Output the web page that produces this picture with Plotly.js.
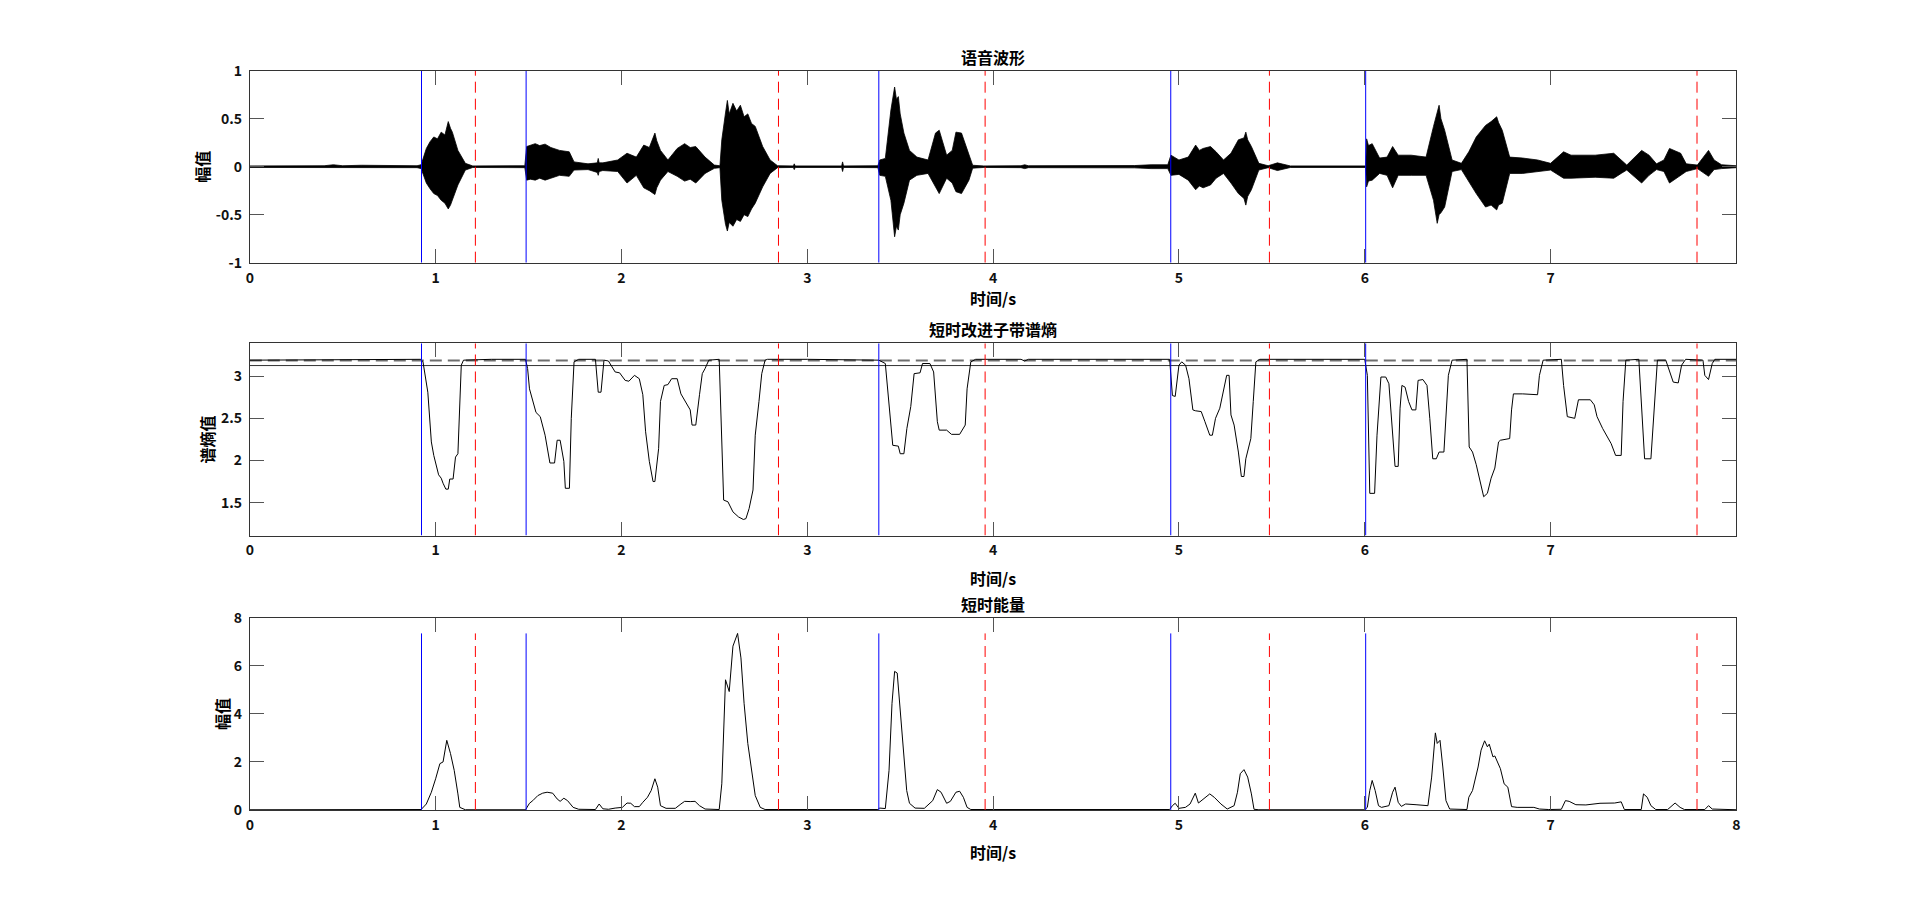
<!DOCTYPE html>
<html>
<head>
<meta charset="utf-8">
<script src="https://cdn.plot.ly/plotly-3.0.1.min.js"></script>
<style>html,body{margin:0;padding:0;background:#fff;}#chart{width:1920px;height:914px;}</style>
</head>
<body>
<div id="chart"></div>
<script>
// ---- Endpoint detection results (seconds) ----
const segStarts = [0.924, 1.487, 3.385, 4.956, 6.005];
const segEnds   = [1.214, 2.845, 3.957, 5.487, 7.788];

// ---- Speech waveform envelope ----
const waveT = [0.00,0.40,0.45,0.50,0.60,0.70,0.80,0.90,0.922,0.95,0.97,0.99,1.01,1.03,1.05,1.068,1.08,1.09,1.12,1.16,1.20,1.48,1.49,1.51,1.536,1.56,1.589,1.62,1.667,1.719,1.745,1.82,1.87,1.875,1.88,1.90,1.98,2.03,2.08,2.12,2.15,2.18,2.19,2.21,2.25,2.30,2.34,2.37,2.40,2.45,2.50,2.53,2.54,2.56,2.57,2.58,2.60,2.62,2.64,2.66,2.68,2.70,2.72,2.76,2.80,2.84,2.925,2.93,2.935,3.185,3.19,3.195,3.38,3.39,3.42,3.45,3.47,3.48,3.49,3.50,3.52,3.55,3.59,3.65,3.69,3.71,3.75,3.78,3.80,3.83,3.87,3.89,3.95,4.15,4.17,4.19,4.76,4.85,4.94,4.957,5.00,5.05,5.09,5.11,5.13,5.17,5.20,5.24,5.28,5.32,5.35,5.36,5.37,5.39,5.43,5.48,5.53,5.60,6.005,6.01,6.02,6.04,6.08,6.12,6.15,6.18,6.25,6.33,6.37,6.39,6.40,6.41,6.43,6.47,6.52,6.56,6.60,6.65,6.68,6.71,6.72,6.74,6.78,6.85,6.93,7.00,7.07,7.11,7.24,7.34,7.38,7.41,7.49,7.53,7.57,7.61,7.64,7.70,7.73,7.79,7.85,7.88,7.92,8.00];
const waveUp = [0.008,0.010,0.020,0.010,0.015,0.012,0.015,0.010,0.020,0.19,0.26,0.31,0.29,0.36,0.33,0.47,0.40,0.36,0.17,0.035,0.008,0.010,0.21,0.22,0.24,0.22,0.235,0.20,0.17,0.155,0.05,0.03,0.04,0.086,0.04,0.04,0.07,0.14,0.10,0.225,0.20,0.35,0.27,0.17,0.07,0.19,0.24,0.20,0.21,0.10,0.017,0.010,0.28,0.56,0.69,0.55,0.66,0.58,0.64,0.52,0.55,0.45,0.42,0.21,0.07,0.010,0.008,0.03,0.008,0.008,0.05,0.008,0.010,0.07,0.086,0.59,0.83,0.70,0.73,0.55,0.35,0.17,0.10,0.07,0.35,0.38,0.12,0.17,0.36,0.35,0.14,0.015,0.008,0.010,0.02,0.010,0.012,0.02,0.02,0.12,0.07,0.10,0.225,0.17,0.19,0.21,0.155,0.07,0.14,0.28,0.30,0.36,0.28,0.21,0.035,0.010,0.04,0.008,0.008,0.29,0.22,0.24,0.09,0.10,0.21,0.12,0.12,0.10,0.42,0.55,0.64,0.50,0.38,0.07,0.035,0.155,0.31,0.43,0.47,0.52,0.46,0.38,0.10,0.09,0.07,0.035,0.155,0.12,0.12,0.14,0.07,0.017,0.17,0.12,0.03,0.07,0.19,0.14,0.03,0.017,0.17,0.07,0.02,0.010];
const waveLow = [-0.008,-0.010,-0.015,-0.010,-0.012,-0.010,-0.012,-0.010,-0.020,-0.17,-0.23,-0.28,-0.30,-0.35,-0.38,-0.44,-0.40,-0.35,-0.19,-0.035,-0.008,-0.010,-0.14,-0.13,-0.14,-0.12,-0.14,-0.12,-0.09,-0.10,-0.035,-0.03,-0.06,-0.09,-0.05,-0.04,-0.05,-0.17,-0.09,-0.22,-0.25,-0.29,-0.22,-0.14,-0.05,-0.10,-0.15,-0.13,-0.17,-0.07,-0.017,-0.010,-0.35,-0.60,-0.67,-0.58,-0.62,-0.55,-0.57,-0.50,-0.52,-0.44,-0.38,-0.21,-0.07,-0.010,-0.008,-0.03,-0.008,-0.008,-0.05,-0.008,-0.010,-0.09,-0.10,-0.35,-0.73,-0.62,-0.66,-0.50,-0.38,-0.14,-0.09,-0.07,-0.22,-0.28,-0.12,-0.17,-0.26,-0.28,-0.14,-0.015,-0.008,-0.010,-0.02,-0.010,-0.012,-0.02,-0.02,-0.09,-0.08,-0.14,-0.24,-0.20,-0.22,-0.19,-0.12,-0.07,-0.17,-0.28,-0.33,-0.40,-0.31,-0.24,-0.035,-0.010,-0.04,-0.008,-0.008,-0.21,-0.15,-0.14,-0.07,-0.09,-0.22,-0.09,-0.09,-0.09,-0.35,-0.59,-0.50,-0.48,-0.42,-0.05,-0.03,-0.16,-0.28,-0.42,-0.40,-0.45,-0.40,-0.38,-0.07,-0.07,-0.05,-0.035,-0.12,-0.12,-0.11,-0.12,-0.07,-0.035,-0.17,-0.09,-0.03,-0.05,-0.17,-0.09,-0.05,-0.02,-0.10,-0.03,-0.02,-0.010];

// ---- Short-time improved sub-band spectral entropy ----
const entT = [0.00,0.50,0.92,0.932,0.958,0.977,0.99,1.016,1.03,1.04,1.055,1.068,1.076,1.094,1.107,1.12,1.128,1.138,1.15,1.30,1.484,1.495,1.505,1.523,1.54,1.563,1.589,1.615,1.64,1.654,1.67,1.69,1.698,1.72,1.73,1.745,1.77,1.86,1.875,1.89,1.906,1.93,1.966,1.99,2.02,2.04,2.07,2.096,2.115,2.13,2.15,2.17,2.18,2.20,2.21,2.23,2.25,2.27,2.30,2.32,2.34,2.37,2.38,2.40,2.42,2.435,2.45,2.47,2.526,2.54,2.55,2.573,2.60,2.63,2.656,2.67,2.687,2.708,2.72,2.74,2.755,2.773,2.786,3.00,3.385,3.42,3.44,3.46,3.49,3.50,3.52,3.536,3.557,3.575,3.607,3.62,3.66,3.68,3.70,3.71,3.75,3.776,3.82,3.85,3.86,3.88,3.906,4.15,4.17,4.19,4.95,4.957,4.965,4.98,5.00,5.015,5.036,5.054,5.075,5.088,5.12,5.14,5.166,5.18,5.197,5.22,5.237,5.257,5.27,5.28,5.297,5.32,5.336,5.35,5.36,5.387,5.40,5.414,5.435,6.00,6.014,6.027,6.053,6.066,6.087,6.113,6.13,6.15,6.163,6.18,6.19,6.20,6.217,6.236,6.254,6.275,6.287,6.313,6.335,6.35,6.366,6.385,6.40,6.426,6.437,6.45,6.47,6.55,6.562,6.58,6.60,6.62,6.64,6.66,6.68,6.70,6.72,6.73,6.78,6.79,6.80,6.85,6.93,6.94,6.96,7.058,7.07,7.09,7.13,7.15,7.214,7.235,7.25,7.28,7.30,7.326,7.35,7.38,7.39,7.405,7.475,7.488,7.506,7.54,7.56,7.575,7.62,7.64,7.66,7.687,7.705,7.727,7.82,7.83,7.85,7.87,7.884,8.00];
const entV = [3.19,3.20,3.20,3.17,2.81,2.22,2.06,1.83,1.79,1.73,1.66,1.66,1.78,1.78,2.04,2.08,2.50,3.13,3.19,3.20,3.20,3.09,2.85,2.70,2.57,2.52,2.30,1.97,1.97,2.24,2.24,1.99,1.67,1.67,2.50,3.17,3.20,3.20,2.81,2.81,3.19,3.18,3.05,3.04,2.95,2.94,3.01,2.97,2.78,2.34,1.99,1.75,1.75,2.14,2.70,2.89,2.90,2.97,2.97,2.79,2.72,2.60,2.42,2.42,2.78,3.03,3.09,3.19,3.20,2.30,1.53,1.51,1.39,1.33,1.30,1.31,1.43,1.65,2.30,2.70,3.03,3.19,3.20,3.20,3.19,3.15,2.70,2.18,2.17,2.08,2.08,2.38,2.64,3.03,3.04,3.15,3.15,3.05,2.46,2.36,2.36,2.31,2.31,2.42,2.85,3.17,3.20,3.20,3.18,3.20,3.20,3.01,2.77,2.76,3.13,3.17,3.13,2.97,2.60,2.59,2.58,2.46,2.30,2.30,2.50,2.62,2.79,3.01,3.01,2.54,2.42,2.10,1.81,1.81,2.02,2.26,2.70,3.17,3.20,3.20,3.01,1.61,1.61,2.30,2.99,2.99,2.91,2.30,1.93,1.93,2.62,2.89,2.87,2.70,2.60,2.60,2.95,2.96,2.89,2.50,2.02,2.02,2.10,2.10,2.50,3.01,3.19,3.20,2.16,2.10,1.95,1.75,1.57,1.61,1.79,1.91,2.22,2.24,2.26,2.60,2.79,2.79,2.78,3.01,3.19,3.20,2.89,2.52,2.50,2.72,2.72,2.66,2.52,2.38,2.30,2.20,2.06,2.06,2.70,3.19,3.20,2.70,2.02,2.02,2.70,3.19,3.19,3.07,2.93,2.92,3.13,3.20,3.19,3.01,2.96,3.15,3.20,3.20];
const entThreshHigh = 3.186;
const entThreshLow = 3.126;

// ---- Short-time energy ----
const engT = [0.00,0.50,0.922,0.95,0.977,1.00,1.023,1.04,1.06,1.08,1.10,1.12,1.13,1.16,1.484,1.505,1.523,1.55,1.576,1.60,1.63,1.654,1.67,1.69,1.71,1.74,1.77,1.86,1.88,1.90,1.93,1.966,2.005,2.03,2.05,2.07,2.096,2.115,2.14,2.16,2.18,2.195,2.21,2.24,2.29,2.32,2.34,2.37,2.396,2.42,2.45,2.526,2.54,2.56,2.58,2.60,2.625,2.643,2.66,2.68,2.70,2.72,2.747,2.773,3.38,3.39,3.42,3.44,3.456,3.47,3.484,3.497,3.51,3.52,3.535,3.55,3.58,3.63,3.675,3.70,3.72,3.75,3.77,3.80,3.82,3.84,3.86,3.88,4.95,4.965,4.98,5.00,5.035,5.06,5.088,5.105,5.13,5.166,5.19,5.226,5.26,5.297,5.315,5.33,5.35,5.37,5.39,5.404,5.43,6.00,6.014,6.027,6.04,6.056,6.074,6.09,6.13,6.15,6.163,6.18,6.197,6.22,6.276,6.34,6.36,6.38,6.39,6.405,6.42,6.437,6.457,6.55,6.56,6.58,6.61,6.626,6.645,6.66,6.67,6.69,6.70,6.73,6.75,6.77,6.79,6.82,6.91,6.94,6.99,7.058,7.08,7.10,7.136,7.19,7.266,7.345,7.38,7.397,7.488,7.50,7.52,7.54,7.566,7.63,7.67,7.697,7.72,7.83,7.85,7.87,8.00];
const engV = [0.01,0.01,0.02,0.25,0.74,1.30,1.93,2.00,2.90,2.35,1.65,0.67,0.11,0.01,0.01,0.28,0.39,0.60,0.70,0.74,0.70,0.46,0.36,0.49,0.39,0.11,0.03,0.02,0.25,0.05,0.03,0.08,0.11,0.29,0.28,0.14,0.14,0.32,0.53,0.81,1.30,0.95,0.18,0.07,0.07,0.25,0.36,0.35,0.36,0.18,0.04,0.02,1.09,5.42,4.93,6.82,7.35,6.33,4.44,2.77,1.65,0.60,0.11,0.02,0.02,0.08,0.06,1.65,4.44,5.77,5.70,4.44,3.04,2.28,0.81,0.28,0.08,0.07,0.39,0.85,0.74,0.28,0.36,0.74,0.78,0.53,0.11,0.02,0.02,0.18,0.28,0.07,0.11,0.25,0.70,0.29,0.46,0.67,0.53,0.25,0.04,0.18,0.74,1.51,1.68,1.37,0.67,0.03,0.01,0.01,0.11,0.81,1.23,0.81,0.18,0.11,0.18,0.74,0.95,0.32,0.15,0.25,0.22,0.18,1.37,3.21,2.77,2.90,1.79,0.39,0.04,0.02,0.53,0.81,1.79,2.49,2.88,2.63,2.74,2.21,2.25,1.72,1.09,0.95,0.14,0.11,0.11,0.04,0.02,0.03,0.39,0.36,0.22,0.21,0.28,0.29,0.34,0.02,0.02,0.67,0.53,0.18,0.02,0.02,0.29,0.11,0.02,0.02,0.18,0.04,0.01];
const engMarkTop = 7.35;

// ---- Axes ranges & ticks ----
const xTicks8 = [0,1,2,3,4,5,6,7,8];
const xTicks7 = [0,1,2,3,4,5,6,7];
const waveRange = [-1, 1];
const waveTicks = [-1,-0.5,0,0.5,1];
const waveTickText = ['-1','-0.5','0','0.5','1'];
const entRange = [1.11, 3.39];
const entTicks = [1.5,2,2.5,3];
const engRange = [0, 8];
const engTicks = [0,2,4,6,8];

// ---- Text ----
const titles = ['语音波形','短时改进子带谱熵','短时能量'];
const xLabel = '时间/s';
const yLabels = ['幅值','谱熵值','幅值'];

// helpers to build vertical marker lines from the arrays
function vlines(xs, y0, y1){
  const X=[],Y=[];
  xs.forEach(v=>{X.push(v,v,null);Y.push(y0,y1,null);});
  return {x:X,y:Y};
}

const FONT = 'Noto Sans CJK SC, Liberation Sans, sans-serif';
const traces = [];

// waveform (upper then filled lower)
traces.push({x:waveT,y:waveUp,xaxis:'x',yaxis:'y',mode:'lines',line:{color:'#000',width:0.8},hoverinfo:'skip',showlegend:false});
traces.push({x:waveT,y:waveLow,xaxis:'x',yaxis:'y',mode:'lines',fill:'tonexty',fillcolor:'#000',line:{color:'#000',width:0.8},hoverinfo:'skip',showlegend:false});

// entropy
traces.push({x:[0,8],y:[entThreshHigh,entThreshHigh],xaxis:'x2',yaxis:'y2',mode:'lines',line:{color:'#6e6e6e',width:2,dash:'12px,6px'},showlegend:false,hoverinfo:'skip'});
traces.push({x:[0,8],y:[entThreshLow,entThreshLow],xaxis:'x2',yaxis:'y2',mode:'lines',line:{color:'#333',width:1},showlegend:false,hoverinfo:'skip'});
traces.push({x:entT,y:entV,xaxis:'x2',yaxis:'y2',mode:'lines',line:{color:'#000',width:1},showlegend:false});

// energy
traces.push({x:engT,y:engV,xaxis:'x3',yaxis:'y3',mode:'lines',line:{color:'#000',width:1},showlegend:false});

// marker lines
const axesDefs = [
  {xa:'x',ya:'y',y0:waveRange[0],y1:waveRange[1]},
  {xa:'x2',ya:'y2',y0:entRange[0],y1:entRange[1]},
  {xa:'x3',ya:'y3',y0:0,y1:engMarkTop}
];
axesDefs.forEach(a=>{
  const s=vlines(segStarts,a.y0,a.y1), e=vlines(segEnds,a.y0,a.y1);
  traces.push({x:s.x,y:s.y,xaxis:a.xa,yaxis:a.ya,mode:'lines',line:{color:'#0000ff',width:1},showlegend:false,hoverinfo:'skip'});
  traces.push({x:e.x,y:e.y,xaxis:a.xa,yaxis:a.ya,mode:'lines',line:{color:'#ff0000',width:1,dash:'11px,6px'},showlegend:false,hoverinfo:'skip'});
});

const xDom = [249.8/1920, 1736.4/1920];
const yDoms = [[1-262.7/914, 1-70.7/914],[1-535.5/914, 1-343.3/914],[1-810/914, 1-617.8/914]];

function xax(anchor, tv){
  return {domain:xDom, anchor:anchor, range:[0,8], tickvals:tv, ticktext:tv.map(String),
    showline:true, mirror:'ticks', linecolor:'#333', linewidth:1, ticks:'inside', ticklen:14, tickwidth:1, tickcolor:'#555',
    showgrid:false, zeroline:false, tickfont:{family:FONT,size:14,color:'#111',weight:'bold'}, ticklabelstandoff:2};
}
function yax(anchor, dom, range, tv, tt){
  return {domain:dom, anchor:anchor, range:range, tickvals:tv, ticktext:tt||tv.map(String),
    showline:true, mirror:'ticks', linecolor:'#333', linewidth:1, ticks:'inside', ticklen:14, tickwidth:1, tickcolor:'#555',
    showgrid:false, zeroline:false, tickfont:{family:FONT,size:14,color:'#111',weight:'bold'}, ticklabelstandoff:4};
}

const tfont = {family:FONT,size:16,color:'#000',weight:'bold'};
const annotations = [];
const titleY = [57.5, 329, 603.7];
const xlabY = [298, 578, 852];
const ylabX = [202, 207, 222];
const ylabY = [166.7, 439.4, 713.9];
for(let i=0;i<3;i++){
  annotations.push({text:titles[i],xref:'paper',yref:'paper',x:993/1920,y:1-titleY[i]/914,xanchor:'center',yanchor:'middle',showarrow:false,font:tfont});
  annotations.push({text:xLabel,xref:'paper',yref:'paper',x:993/1920,y:1-xlabY[i]/914,xanchor:'center',yanchor:'middle',showarrow:false,font:tfont});
  annotations.push({text:yLabels[i],xref:'paper',yref:'paper',x:ylabX[i]/1920,y:1-ylabY[i]/914,xanchor:'center',yanchor:'middle',textangle:-90,showarrow:false,font:tfont});
}

const layout = {
  width:1920, height:914, margin:{l:0,r:0,t:0,b:0}, paper_bgcolor:'#fff', plot_bgcolor:'#fff',
  showlegend:false,
  xaxis: xax('y', xTicks7), yaxis: yax('x', yDoms[0], waveRange, waveTicks, waveTickText),
  xaxis2: xax('y2', xTicks7), yaxis2: yax('x2', yDoms[1], entRange, entTicks),
  xaxis3: xax('y3', xTicks8), yaxis3: yax('x3', yDoms[2], engRange, engTicks),
  annotations: annotations
};

Plotly.newPlot('chart', traces, layout, {displayModeBar:false, staticPlot:true});
</script>
</body>
</html>
